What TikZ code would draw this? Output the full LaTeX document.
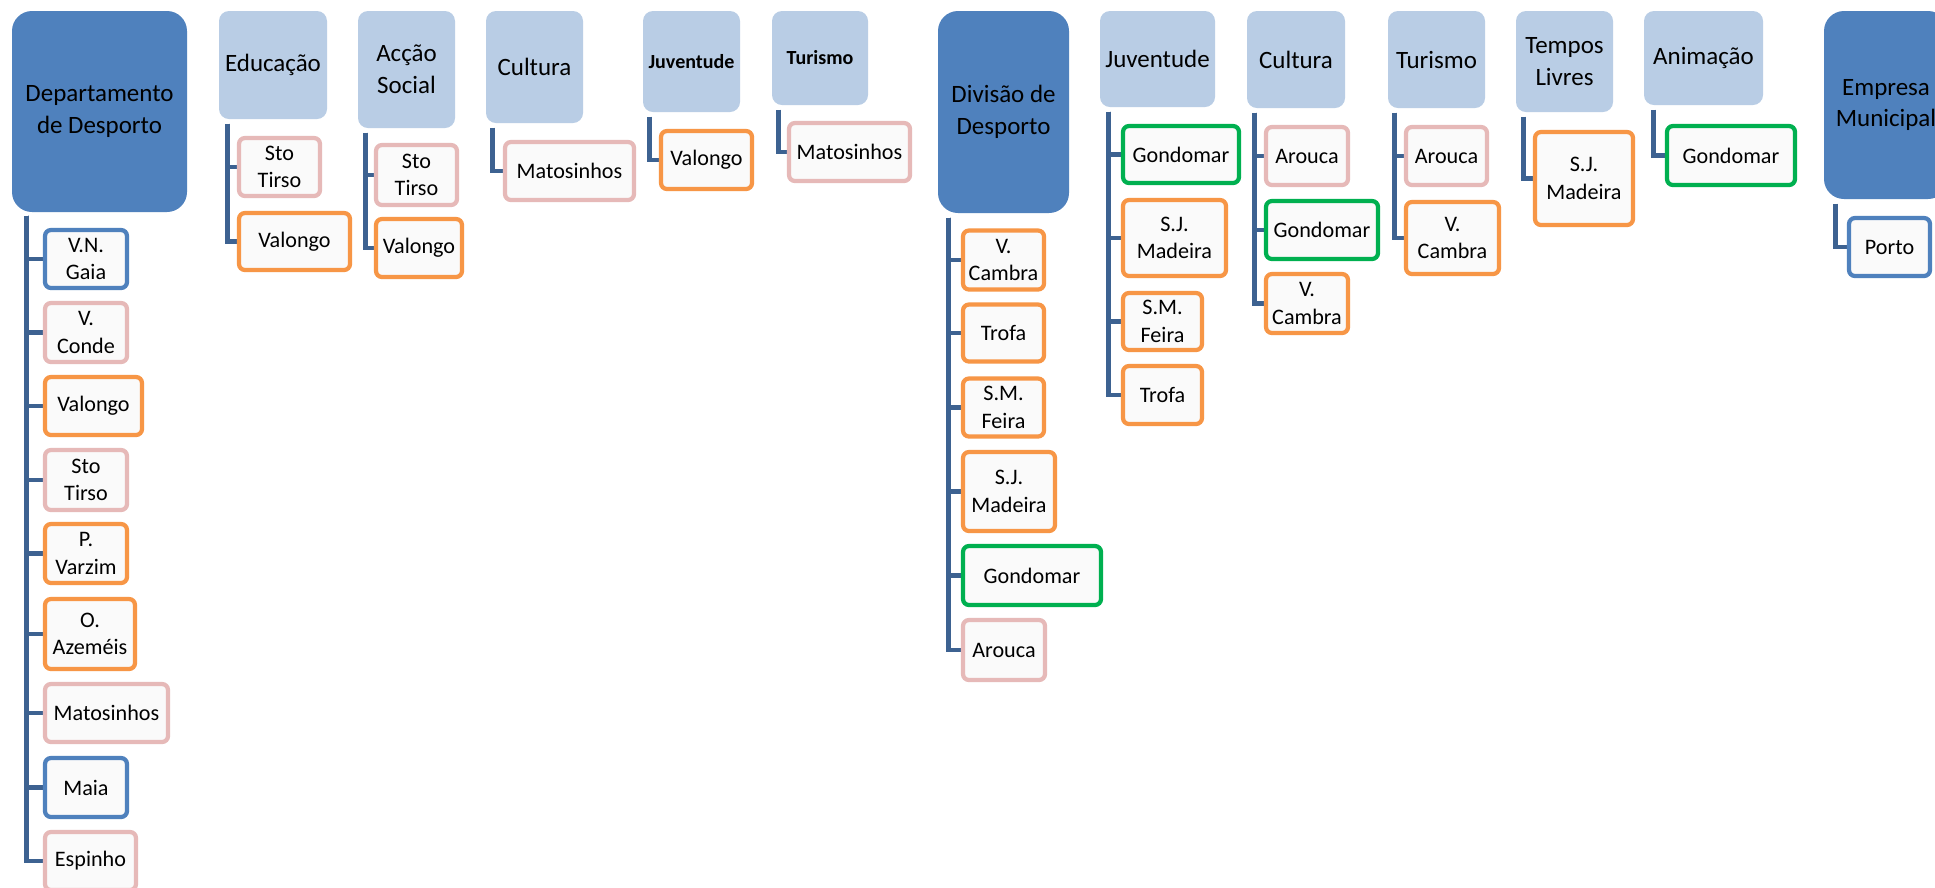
\documentclass[tikz,border=0pt]{standalone}
\usepackage{fontspec}
\setmainfont{Carlito}
\usepackage{tikz}
\usetikzlibrary{backgrounds,calc}
\definecolor{headdark}{RGB}{79,129,189}
\definecolor{headlight}{RGB}{185,205,229}
\definecolor{linkblue}{RGB}{61,98,145}
\definecolor{leaffill}{RGB}{250,250,250}
\definecolor{pinkline}{RGB}{230,185,184}
\definecolor{orangeline}{RGB}{247,150,70}
\definecolor{greenline}{RGB}{0,176,80}
\definecolor{blueline}{RGB}{79,129,189}
\newcommand{\headfont}{\fontsize{7.1}{9}\selectfont}
\newcommand{\tinyhead}{\fontsize{5.7}{7}\selectfont\bfseries}
\newcommand{\leaffont}{\fontsize{6.3}{7.8}\selectfont}

\begin{document}
\begin{tikzpicture}[
      x=0.1mm,
      y=-0.1mm,
      head/.style={
        fill=headlight,
        rounded corners=1mm,
        align=center,
        inner sep=1pt,
        font=\headfont
      },
      mainhead/.style={head, fill=headdark, rounded corners=2mm},
      leaf/.style={
        draw=#1,
        line width=1.2pt,
        fill=leaffill,
        rounded corners=0.6mm,
        align=center,
        inner sep=1pt,
        minimum height=5.8mm,
        font=\leaffont
      },
      conn/.style={draw=linkblue, line width=1.4pt}
    ]
    \path[use as bounding box] (0,0) rectangle (1935,887);
    \clip (0,0) rectangle (1935,887);

    % first department
    \node[mainhead, minimum width=17.5mm, minimum height=20.1mm] (dept) at (99.5,111.5)
      {Departamento\\de Desporto};
    \node[leaf=blueline, minimum width=8.2mm] (d1) at (86,259) {V.N.\\Gaia};
    \node[leaf=pinkline, minimum width=8.2mm, minimum height=5.9mm] (d2) at (86,332.5) {V.\\Conde};
    \node[leaf=orangeline, minimum width=9.7mm] (d3) at (93.5,406) {Valongo};
    \node[leaf=pinkline, minimum width=8.2mm, minimum height=6mm] (d4) at (86,480) {Sto\\Tirso};
    \node[leaf=orangeline, minimum width=8.2mm, minimum height=5.9mm] (d5) at (86,553.5) {P.\\Varzim};
    \node[leaf=orangeline, minimum width=9mm, minimum height=7mm] (d6) at (90,634) {O.\\Azeméis};
    \node[leaf=pinkline, minimum width=12.3mm] (d7) at (106.5,713) {Matosinhos};
    \node[leaf=blueline, minimum width=8.2mm, minimum height=5.9mm] (d8) at (86,787.5) {Maia};
    \node[leaf=pinkline, minimum width=9.1mm] (d9) at (90.5,861) {Espinho};

    \node[head, minimum width=10.8mm, minimum height=10.8mm] (edu) at (273,65) {Educação};
    \node[leaf=pinkline, minimum width=8.1mm] (e1) at (279.5,167) {Sto\\Tirso};
    \node[leaf=orangeline, minimum width=11.1mm, minimum height=5.7mm] (e2) at (294.5,241.5) {Valongo};

    \node[head, minimum width=9.7mm, minimum height=11.7mm] (accao) at (406.5,69.5) {Acção\\Social};
    \node[leaf=pinkline, minimum width=8.1mm, minimum height=6mm] (a1) at (416.5,175) {Sto\\Tirso};
    \node[leaf=orangeline, minimum width=8.6mm] (a2) at (419,248) {Valongo};

    \node[head, minimum width=9.7mm, minimum height=11.2mm] (cultA) at (534.5,67) {Cultura};
    \node[leaf=pinkline, minimum width=12.9mm] (c1) at (569.5,171) {Matosinhos};

    \node[head, font=\tinyhead, minimum width=9.7mm, minimum height=10.1mm] (juvA) at (691.5,61.5) {Juventude};
    \node[leaf=orangeline, minimum width=9.1mm] (j1) at (706.5,160) {Valongo};

    \node[head, font=\tinyhead, minimum width=9.6mm, minimum height=9.4mm] (turA) at (820,58) {Turismo};
    \node[leaf=pinkline, minimum width=12.1mm] (t1) at (849.5,152) {Matosinhos};

    % second department
    \node[mainhead, minimum width=13.1mm, minimum height=20.2mm] (div) at (1003.5,112)
      {Divisão de\\Desporto};
    \node[leaf=orangeline, minimum width=8.1mm, minimum height=5.9mm] (v1) at (1003.5,260) {V.\\Cambra};
    \node[leaf=orangeline, minimum width=8.1mm, minimum height=5.7mm] (v2) at (1003.5,333) {Trofa};
    \node[leaf=orangeline, minimum width=8.1mm] (v3) at (1003.5,407.5) {S.M.\\Feira};
    \node[leaf=orangeline, minimum width=9.2mm, minimum height=7.9mm] (v4) at (1009,491.5) {S.J.\\Madeira};
    \node[leaf=greenline, minimum width=13.8mm, minimum height=5.9mm] (v5) at (1032,575.5) {Gondomar};
    \node[leaf=pinkline, minimum width=8.2mm, minimum height=6mm] (v6) at (1004,650) {Arouca};

    \node[head, minimum width=11.5mm, minimum height=9.6mm] (juvB) at (1157.5,59) {Juventude};
    \node[leaf=greenline, minimum width=11.6mm, minimum height=5.7mm] (jb1) at (1181,154.5) {Gondomar};
    \node[leaf=orangeline, minimum width=10.3mm, minimum height=7.6mm] (jb2) at (1174.5,238) {S.J.\\Madeira};
    \node[leaf=orangeline, minimum width=7.9mm, minimum height=5.7mm] (jb3) at (1162.5,321.5) {S.M.\\Feira};
    \node[leaf=orangeline, minimum width=7.9mm] (jb4) at (1162.5,395) {Trofa};

    \node[head, minimum width=9.8mm, minimum height=9.7mm] (cultB) at (1296,59.5) {Cultura};
    \node[leaf=pinkline, minimum width=8.2mm] (cb1) at (1307,156) {Arouca};
    \node[leaf=greenline, minimum width=11.2mm] (cb2) at (1322,230) {Gondomar};
    \node[leaf=orangeline, minimum width=8.2mm, minimum height=5.9mm] (cb3) at (1307,303.5) {V.\\Cambra};

    \node[head, minimum width=9.7mm, minimum height=9.7mm] (turB) at (1436.5,59.5) {Turismo};
    \node[leaf=pinkline, minimum width=8.1mm] (tb1) at (1446.5,156) {Arouca};
    \node[leaf=orangeline, minimum width=9.3mm, minimum height=7.2mm] (tb2) at (1452.5,238) {V.\\Cambra};

    \node[head, minimum width=9.7mm, minimum height=10.1mm] (tempos) at (1564.5,61.5) {Tempos\\Livres};
    \node[leaf=orangeline, minimum width=9.8mm, minimum height=9.3mm] (tl1) at (1584,178.5) {S.J.\\Madeira};

    \node[head, minimum width=11.9mm, minimum height=9.4mm] (anim) at (1703.5,58) {Animação};
    \node[leaf=greenline, minimum width=12.8mm, minimum height=5.9mm] (an1) at (1731,155.5) {Gondomar};

    % third department
    \node[mainhead, minimum width=12.4mm, minimum height=18.8mm] (empresa) at (1886,105)
      {Empresa\\Municipal};
    \node[leaf=blueline, minimum width=8.1mm] (em1) at (1889.5,247) {Porto};

    \begin{scope}[on background layer]
    \fill[white] (0,0) rectangle (1935,887);
    \foreach \k in {d1,d2,d3,d4,d5,d6,d7,d8,d9}
      \draw[conn] ($(dept.south west)+(15,3)$) |- (\k.west);
    \foreach \k in {e1,e2}
      \draw[conn] ($(edu.south west)+(9,4)$) |- (\k.west);
    \foreach \k in {a1,a2}
      \draw[conn] ($(accao.south west)+(8,4)$) |- (\k.west);
    \draw[conn] ($(cultA.south west)+(7,4)$) |- (c1.west);
    \draw[conn] ($(juvA.south west)+(7,4)$) |- (j1.west);
    \draw[conn] ($(turA.south west)+(7,4)$) |- (t1.west);
    \foreach \k in {v1,v2,v3,v4,v5,v6}
      \draw[conn] ($(div.south west)+(11,4)$) |- (\k.west);
    \foreach \k in {jb1,jb2,jb3,jb4}
      \draw[conn] ($(juvB.south west)+(9,4)$) |- (\k.west);
    \foreach \k in {cb1,cb2,cb3}
      \draw[conn] ($(cultB.south west)+(8,4)$) |- (\k.west);
    \foreach \k in {tb1,tb2}
      \draw[conn] ($(turB.south west)+(7,4)$) |- (\k.west);
    \draw[conn] ($(tempos.south west)+(8,4)$) |- (tl1.west);
    \draw[conn] ($(anim.south west)+(10,4)$) |- (an1.west);
    \draw[conn] ($(empresa.south west)+(12,4)$) |- (em1.west);
    \end{scope}
  \end{tikzpicture}
\end{document}
